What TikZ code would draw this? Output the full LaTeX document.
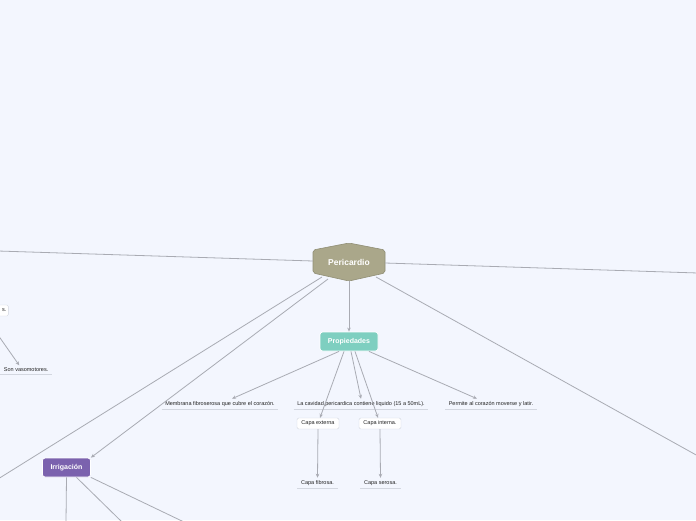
\documentclass[tikz,border=0pt]{standalone}
\usepackage{fontspec}
\setmainfont{Liberation Sans}
\usetikzlibrary{arrows.meta}
\definecolor{bg}{HTML}{F3F6FE}
\definecolor{conn}{HTML}{A9ABB3}
\definecolor{peri}{HTML}{AAA78A}
\definecolor{prop}{HTML}{7ECFC0}
\definecolor{irri}{HTML}{7B62AE}
\definecolor{txt}{HTML}{222222}
\definecolor{uline}{HTML}{D3D7E0}
\tikzset{
  conn/.style={draw=conn, line width=0.8pt},
  arr/.style={conn, -{Stealth[length=4pt,width=3.5pt]}},
  leaf/.style={font=\fontsize{5.5}{6.5}\selectfont, text=txt, inner xsep=3.5pt, inner ysep=2.5pt},
  uline/.style={draw=uline, line width=0.9pt},
  boxsmall/.style={draw=uline, fill=white, rounded corners=1.5pt, font=\fontsize{5.5}{6.5}\selectfont, text=txt, minimum width=42pt, minimum height=11pt, inner sep=1pt},
  mainbox/.style={rounded corners=2.5pt, text=white, font=\bfseries\fontsize{7}{8}\selectfont, inner sep=0pt, draw=white, line width=0.8pt},
}
\begin{document}
\begin{tikzpicture}[x=1pt,y=-1pt]
\fill[bg] (0,0) rectangle (696,520);
\useasboundingbox (0,0) rectangle (696,520);

% free ends (off-canvas)
\coordinate (offL) at (-2,251);
\coordinate (offR) at (698,273);
\coordinate (offBL) at (-2,479);
\coordinate (offBR) at (698,456);
\coordinate (offS1) at (-2,335);
\coordinate (irA) at (66,522);
\coordinate (irB) at (122,522);
\coordinate (irC) at (184,522);

% Pericardio hexagon
\node[minimum width=72pt, minimum height=38pt, inner sep=0pt] (peri) at (349,262) {};
\fill[peri, draw=peri!85!black, line width=0.6pt, rounded corners=2pt]
  (349,243) -- (385,250) -- (385,273) -- (349,281) -- (313,273) -- (313,250) -- cycle;
\node[text=white, font=\bfseries\fontsize{8.5}{10}\selectfont] (peritxt) at (349,262) {Pericardio};

% main boxes
\node[mainbox, fill=prop, minimum width=58pt, minimum height=19pt] (prop) at (349,341.5) {Propiedades};
\node[mainbox, fill=irri, minimum width=48pt, minimum height=19pt] (irri) at (66.5,467.5) {Irrigación};

% leaves
\node[leaf] (memb) at (220,404) {Membrana fibroserosa que cubre el corazón.};
\node[leaf] (cav) at (361,404) {La cavidad pericardica contiene liquido (15 a 50mL).};
\node[leaf] (perm) at (491,404) {Permite al corazón moverse y latir.};
\node[boxsmall] (cext) at (318,423.5) {Capa externa};
\node[boxsmall] (cint) at (380,423.5) {Capa interna.};
\node[leaf] (cfib) at (317.5,483) {Capa fibrosa.};
\node[leaf] (cser) at (380.5,483) {Capa serosa.};
\node[leaf, anchor=east] (vaso) at (52,370) {Son vasomotores.};
\node[boxsmall, minimum width=0pt, text width=14pt, align=right, inner xsep=2pt, anchor=east] (sbox) at (8.5,310.5) {s.};

% underlines
\foreach \n in {memb,cav,perm,cfib,cser,vaso}
  \draw[uline] (\n.south west) -- (\n.south east);

% connectors from Pericardio
\draw[conn] (313,261) -- (offL);
\draw[conn] (385,263) -- (offR);
\draw[arr] (peri.south) -- (prop.north);
\draw[conn] (322,277) -- (offBL);
\draw[arr] (328,279) -- (irri.north east);
\draw[conn] (376,277) -- (offBR);

% from Propiedades
\draw[arr] ([xshift=-10pt]prop.south) -- ([xshift=12pt]memb.north);
\draw[arr] ([xshift=-5pt]prop.south) -- ([xshift=2pt]cext.north);
\draw[arr] ([xshift=2pt]prop.south) -- (cav.north);
\draw[arr] ([xshift=6pt]prop.south) -- ([xshift=-2pt]cint.north);
\draw[arr] ([xshift=20pt]prop.south) -- ([xshift=-14pt]perm.north);

% from capa boxes
\draw[arr] (cext.south) -- (cfib.north);
\draw[arr] (cint.south) -- (cser.north);

% left partial
\draw[arr] (offS1) -- ([xshift=19pt]vaso.north west);

% from Irrigacion
\draw[conn] (irri.south) -- (irA);
\draw[conn] ([xshift=10pt]irri.south) -- (irB);
\draw[conn] (irri.south east) -- (irC);
\end{tikzpicture}
\end{document}
